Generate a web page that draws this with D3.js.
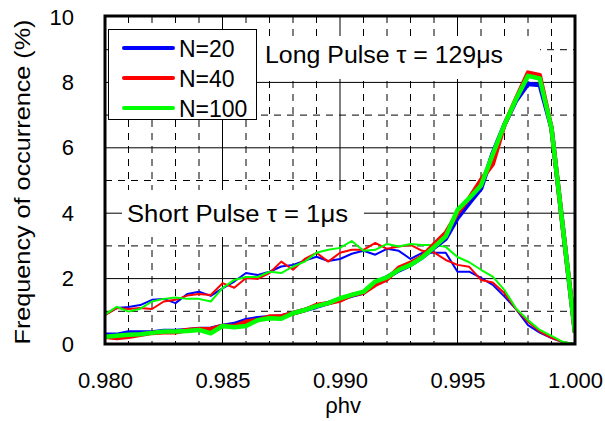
<html>
<script src='https://cdn.jsdelivr.net/npm/d3@7'></script>
<style>
 body {margin: 0; background: white;}
 text {font-family: "Liberation Sans", Arial, sans-serif; fill: black;}
</style>
<body>
<svg width=605 height=421></svg>
<script>
// rho_hv bins
var rho = [0.9800, 0.9805, 0.9810, 0.9815, 0.9820, 0.9825, 0.9830, 0.9835, 0.9840, 0.9845,
           0.9850, 0.9855, 0.9860, 0.9865, 0.9870, 0.9875, 0.9880, 0.9885, 0.9890, 0.9895,
           0.9900, 0.9905, 0.9910, 0.9915, 0.9920, 0.9925, 0.9930, 0.9935, 0.9940, 0.9945,
           0.9950, 0.9955, 0.9960, 0.9965, 0.9970, 0.9975, 0.9980, 0.9985, 0.9990, 0.9995, 1.0000];

var seriesNames = ["N=20", "N=40", "N=100"];
var seriesColors = ["#0000ff", "#ff0000", "#00ff00"];

// short pulse tau = 1us
var shortN20  = [0.90, 1.10, 1.13, 1.19, 1.35, 1.38, 1.25, 1.53, 1.60, 1.47,
                 1.70, 1.91, 2.17, 2.11, 2.21, 2.37, 2.42, 2.55, 2.67, 2.54,
                 2.60, 2.76, 2.85, 2.73, 2.91, 2.85, 2.60, 2.79, 2.79, 2.79,
                 2.21, 2.21, 2.02, 1.81, 1.45, 1.06, 0.58, 0.35, 0.18, 0.05, 0.00];
var shortN40  = [0.88, 1.10, 1.07, 1.10, 1.07, 1.30, 1.35, 1.48, 1.53, 1.50,
                 1.86, 1.72, 2.02, 1.99, 2.17, 2.52, 2.27, 2.60, 2.79, 2.52,
                 2.79, 2.88, 2.88, 3.09, 2.91, 2.98, 3.03, 2.85, 2.80, 2.57,
                 2.42, 2.36, 1.96, 1.88, 1.55, 1.06, 0.68, 0.38, 0.19, 0.05, 0.00];
var shortN100 = [0.90, 1.14, 0.99, 1.08, 1.30, 1.38, 1.42, 1.38, 1.38, 1.30,
                 1.71, 1.96, 2.05, 2.05, 2.21, 2.17, 2.37, 2.52, 2.79, 2.88,
                 2.94, 3.15, 2.85, 2.88, 3.06, 2.98, 3.06, 3.03, 3.03, 2.97,
                 2.66, 2.50, 2.27, 2.06, 1.65, 1.08, 0.73, 0.43, 0.25, 0.06, 0.00];
// values piled up on the left edge (below 0.980)
var shortEdge = [4.0, 4.0, 2.1];

// long pulse tau = 129us
var longN20  = [0.28, 0.28, 0.35, 0.35, 0.35, 0.40, 0.40, 0.42, 0.46, 0.47,
                0.55, 0.61, 0.73, 0.79, 0.82, 0.84, 0.94, 1.04, 1.14, 1.25,
                1.37, 1.48, 1.57, 1.88, 2.04, 2.25, 2.42, 2.65, 2.94, 3.22,
                3.85, 4.31, 4.75, 5.84, 6.71, 7.45, 7.95, 7.92, 6.60, 3.45, 0.35];
var longN40  = [0.22, 0.18, 0.22, 0.28, 0.34, 0.36, 0.36, 0.43, 0.45, 0.45,
                0.55, 0.55, 0.68, 0.73, 0.84, 0.84, 0.94, 1.04, 1.19, 1.25,
                1.33, 1.50, 1.57, 1.81, 1.98, 2.33, 2.48, 2.68, 3.05, 3.40,
                4.00, 4.46, 5.02, 5.50, 6.71, 7.52, 8.30, 8.22, 6.60, 3.45, 0.35];
var longN100 = [0.22, 0.25, 0.28, 0.30, 0.34, 0.38, 0.38, 0.40, 0.43, 0.33,
                0.55, 0.51, 0.55, 0.73, 0.79, 0.77, 0.94, 1.04, 1.16, 1.25,
                1.40, 1.50, 1.60, 1.91, 2.04, 2.27, 2.42, 2.65, 2.96, 3.29,
                4.10, 4.46, 4.85, 5.80, 6.71, 7.50, 8.20, 8.12, 6.60, 3.45, 0.35];

var xTicks = [0.980, 0.985, 0.990, 0.995, 1.000];
var yTicks = [0, 2, 4, 6, 8, 10];

var shortSeries = [shortN20, shortN40, shortN100];
var longSeries = [longN20, longN40, longN100];

var L = 105, R = 575, T = 16, B = 344;

var x = d3.scaleLinear().domain([0.98, 1.0]).range([L, R]);
var y = d3.scaleLinear().domain([0, 10]).range([B, 17]);

var svg = d3.select("svg");

svg.append("clipPath").attr("id", "plotclip")
  .append("rect").attr("x", L).attr("y", T).attr("width", R - L).attr("height", B - T);

// grid: dashed every 0.001 / 1, solid at labelled ticks
var grid = svg.append("g");
d3.range(1, 20).forEach(function (k) {
  var xv = 0.98 + k * 0.001;
  grid.append("line")
    .attr("x1", x(xv)).attr("x2", x(xv)).attr("y1", T).attr("y2", B)
    .attr("stroke", "black").attr("stroke-width", 1)
    .attr("stroke-dasharray", k % 5 == 0 ? null : "7,6");
});
d3.range(1, 10).forEach(function (k) {
  grid.append("line")
    .attr("x1", L).attr("x2", R).attr("y1", y(k)).attr("y2", y(k))
    .attr("stroke", "black").attr("stroke-width", 1)
    .attr("stroke-dasharray", k % 2 == 0 ? null : "7,6");
});

// white boxes behind the two notes
svg.append("rect").attr("x", 258).attr("y", 36).attr("width", 282).attr("height", 43).attr("fill", "white");
svg.append("rect").attr("x", 122).attr("y", 190).attr("width", 242).attr("height", 47).attr("fill", "white");

var line = d3.line()
  .x(function (d) { return x(d[0]); })
  .y(function (d) { return y(d[1]); });

var plot = svg.append("g").attr("clip-path", "url(#plotclip)");

// short pulse, thin lines
shortSeries.forEach(function (vals, i) {
  var pts = [[rho[0], shortEdge[i]]].concat(vals.map(function (v, j) { return [rho[j], v]; }));
  plot.append("path").attr("d", line(pts))
    .attr("fill", "none").attr("stroke", seriesColors[i])
    .attr("stroke-width", 2).attr("stroke-linejoin", "round");
});

// long pulse, thick lines
longSeries.forEach(function (vals, i) {
  var pts = vals.map(function (v, j) { return [rho[j], v]; });
  plot.append("path").attr("d", line(pts))
    .attr("fill", "none").attr("stroke", seriesColors[i])
    .attr("stroke-width", 4.5).attr("stroke-linejoin", "round");
});

// frame
svg.append("rect").attr("x", L).attr("y", T).attr("width", R - L).attr("height", B - T)
  .attr("fill", "none").attr("stroke", "black").attr("stroke-width", 3);

// axes
var xAxis = svg.append("g").attr("transform", "translate(0," + B + ")")
  .call(d3.axisBottom(x).tickValues(xTicks).tickFormat(d3.format(".3f")).tickSize(0).tickPadding(28));
xAxis.select(".domain").remove();
xAxis.selectAll("text").style("font-size", "22px").style("font-family", "Liberation Sans, Arial");

var yAxis = svg.append("g").attr("transform", "translate(" + L + ",0)")
  .call(d3.axisLeft(y).tickValues(yTicks).tickFormat(d3.format("d")).tickSize(0).tickPadding(31));
yAxis.select(".domain").remove();
yAxis.selectAll("text").style("font-size", "22px").style("font-family", "Liberation Sans, Arial");

// axis titles
svg.append("text").attr("x", 343).attr("y", 413).attr("text-anchor", "middle")
  .style("font-size", "22px").text("ρhv");
svg.append("text").attr("transform", "translate(30,182) rotate(-90)").attr("text-anchor", "middle")
  .attr("textLength", 325).attr("lengthAdjust", "spacingAndGlyphs")
  .style("font-size", "22px").text("Frequency of occurrence (%)");

// notes
svg.append("text").attr("x", 265).attr("y", 63)
  .attr("textLength", 238).attr("lengthAdjust", "spacingAndGlyphs")
  .style("font-size", "23px").text("Long Pulse τ = 129μs");
svg.append("text").attr("x", 127).attr("y", 222)
  .attr("textLength", 221).attr("lengthAdjust", "spacingAndGlyphs")
  .style("font-size", "23px").text("Short Pulse τ = 1μs");

// legend
var leg = svg.append("g");
leg.append("rect").attr("x", 108.5).attr("y", 29.5).attr("width", 148).attr("height", 90)
  .attr("fill", "white").attr("stroke", "black").attr("stroke-width", 1);
seriesNames.forEach(function (name, i) {
  var ly = 48 + i * 30;
  leg.append("line").attr("x1", 124).attr("x2", 173).attr("y1", ly).attr("y2", ly)
    .attr("stroke", seriesColors[i]).attr("stroke-width", 4).attr("stroke-linecap", "round");
  leg.append("text").attr("x", 179).attr("y", ly + 8.5).style("font-size", "23px").text(name);
});
</script>
</body>
</html>
